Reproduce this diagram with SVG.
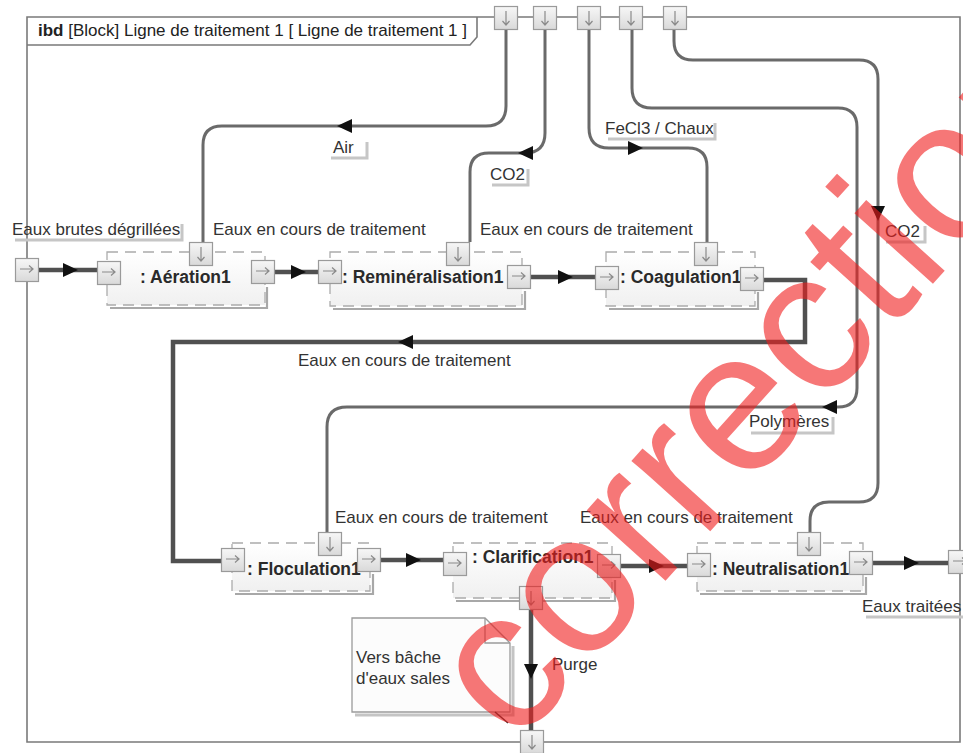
<svg xmlns="http://www.w3.org/2000/svg" width="963" height="753" viewBox="0 0 963 753">
<defs>
<linearGradient id="pg" x1="0" y1="0" x2="0" y2="1"><stop offset="0" stop-color="#f7f7f7"/><stop offset="1" stop-color="#d9d9d9"/></linearGradient>
<linearGradient id="bg" x1="0" y1="0" x2="0" y2="1"><stop offset="0" stop-color="#ffffff"/><stop offset="1" stop-color="#f0f0f0"/></linearGradient>
<symbol id="pR" viewBox="0 0 24 24" overflow="visible"><rect x="0.5" y="0.5" width="23" height="23" fill="url(#pg)" stroke="#9a9a9a" stroke-width="1.2"/><path d="M5,11 H18 M14,7.5 L18,11 L14,14.5" fill="none" stroke="#8a8a8a" stroke-width="1.2"/></symbol>
<symbol id="pD" viewBox="0 0 24 24" overflow="visible"><rect x="0.5" y="0.5" width="23" height="23" fill="url(#pg)" stroke="#9a9a9a" stroke-width="1.2"/><path d="M12,5 V19 M8.5,15 L12,19 L15.5,15" fill="none" stroke="#8a8a8a" stroke-width="1.2"/></symbol>
<path id="ah" d="M0,0 L-15,-7 L-15,7 Z" fill="#111"/>
</defs>
<style>
.frame{fill:none;stroke:#7a7a7a;stroke-width:1.6}
.blk{fill:url(#bg);stroke:#ababab;stroke-width:1.3;stroke-dasharray:11 7}
.sh{fill:none;stroke:#a8a8a8;stroke-width:2.2}
.ctl{fill:none;stroke:#6a6a6a;stroke-width:3}
.flow{fill:none;stroke:#505050;stroke-width:4.5}
.ls{fill:none;stroke:#c6c6c6;stroke-width:3}
text{font-family:"Liberation Sans",Arial,sans-serif}
.lbl{font-size:17px;fill:#333}
.ttl{font-size:17.5px;font-weight:bold;fill:#2a2a2a}
</style>
<rect width="963" height="753" fill="#fff"/>

<g id="frame">
<path class="frame" d="M27,17 H960 V742 H27 Z"/>
<path class="frame" d="M27,45 H470 L477,37 V17"/>
<text x="38" y="36" style="font-size:17px;fill:#222"><tspan font-weight="bold">ibd</tspan> [Block] Ligne de traitement 1 [ Ligne de traitement 1 ]</text>
<use href="#pD" x="494" y="6" width="24" height="24"/>
<use href="#pD" x="533" y="6" width="24" height="24"/>
<use href="#pD" x="577" y="6" width="24" height="24"/>
<use href="#pD" x="619" y="6" width="24" height="24"/>
<use href="#pD" x="663" y="6" width="24" height="24"/>
<use href="#pR" x="15" y="258" width="24" height="24"/>
<use href="#pR" x="948" y="550" width="24" height="24"/>
<use href="#pD" x="520" y="730" width="24" height="24"/>
</g>

<g id="connectors">
<path class="ctl" d="M506,30 V106 Q506,126 486,126 H222 Q203,126 203,145 V242"/>
<path class="ctl" d="M545,30 V133 Q545,153 525,153 H489 Q470,153 470,172 V242"/>
<path class="ctl" d="M589,30 V128 Q589,148 609,148 H688 Q707,148 707,167 V242"/>
<path class="ctl" d="M632,30 V88 Q632,108 652,108 H838 Q857,108 857,127 V388 Q857,407 838,407 H347 Q327,407 327,427 V532"/>
<path class="ctl" d="M674,30 V41 Q674,60 693,60 H859 Q878,60 878,79 V483 Q878,502 859,502 H829 Q810,502 810,521 V532"/>
<use href="#ah" transform="translate(337,126) rotate(180)"/>
<use href="#ah" transform="translate(518,153) rotate(180)"/>
<use href="#ah" transform="translate(643,148)"/>
<use href="#ah" transform="translate(822,407) rotate(180)"/>
<use href="#ah" transform="translate(878,221) rotate(90)"/>
<path class="flow" d="M39,270 H97"/>
<path class="flow" d="M274,272 H318"/>
<path class="flow" d="M531,277 H595"/>
<path class="flow" d="M764,280 H805 V342 H173 V561 H221"/>
<path class="flow" d="M381,560 H443"/>
<path class="flow" d="M621,566 H687"/>
<path class="flow" d="M873,563 H948"/>
<path class="flow" d="M531,610 V730"/>
<use href="#ah" transform="translate(78,270)"/>
<use href="#ah" transform="translate(306,272)"/>
<use href="#ah" transform="translate(573,277)"/>
<use href="#ah" transform="translate(398,342) rotate(180)"/>
<use href="#ah" transform="translate(421,560)"/>
<use href="#ah" transform="translate(664,566)"/>
<use href="#ah" transform="translate(919,563)"/>
<use href="#ah" transform="translate(531,679) rotate(90)"/>
</g>

<g id="labels">
<text class="lbl" x="12" y="235">Eaux brutes dégrillées</text>
<polyline class="ls" points="15,240 182,240 182,224"/>
<text class="lbl" x="213" y="235">Eaux en cours de traitement</text>
<text class="lbl" x="480" y="235">Eaux en cours de traitement</text>
<text class="lbl" x="298" y="366">Eaux en cours de traitement</text>
<text class="lbl" x="335" y="523">Eaux en cours de traitement</text>
<text class="lbl" x="580" y="523">Eaux en cours de traitement</text>
<text class="lbl" x="333" y="153">Air</text>
<polyline class="ls" points="331,158 367,158 367,142"/>
<text class="lbl" x="490" y="180">CO2</text>
<polyline class="ls" points="492,185 528,185 528,169"/>
<text class="lbl" x="605" y="134">FeCl3 / Chaux</text>
<polyline class="ls" points="608,139 715,139 715,123"/>
<text class="lbl" x="885" y="237">CO2</text>
<polyline class="ls" points="886,242 925,242 925,226"/>
<text class="lbl" x="749" y="427">Polymères</text>
<polyline class="ls" points="751,433 833,433 833,417"/>
<text class="lbl" x="862" y="612">Eaux traitées</text>
<polyline class="ls" points="866,617 963,617"/>
<text class="lbl" x="552" y="670">Purge</text>
</g>

<g id="aeration">
<rect class="blk" x="107" y="252" width="158" height="53"/>
<polyline class="sh" points="110,308 267,308 267,287"/>
<text class="ttl" x="140" y="283">: Aération1</text>
<use href="#pR" x="97" y="261" width="24" height="24"/>
<use href="#pD" x="189" y="242" width="24" height="24"/>
<use href="#pR" x="251" y="260" width="24" height="24"/>
</g>

<g id="remineralisation">
<rect class="blk" x="330" y="252" width="192" height="54"/>
<polyline class="sh" points="333,309 525,309 525,291"/>
<text class="ttl" x="342" y="283">: Reminéralisation1</text>
<use href="#pR" x="318" y="260" width="24" height="24"/>
<use href="#pD" x="446" y="242" width="24" height="24"/>
<use href="#pR" x="507" y="265" width="24" height="24"/>
</g>

<g id="coagulation">
<rect class="blk" x="606" y="252" width="149" height="54"/>
<polyline class="sh" points="609,309 758,309 758,292"/>
<text class="ttl" x="620" y="283">: Coagulation1</text>
<use href="#pR" x="595" y="266" width="24" height="24"/>
<use href="#pD" x="694" y="242" width="24" height="24"/>
<use href="#pR" x="740" y="267" width="24" height="24"/>
</g>

<g id="floculation">
<rect class="blk" x="232" y="543" width="138" height="48"/>
<polyline class="sh" points="235,594 373,594 373,574"/>
<text class="ttl" x="247" y="575">: Floculation1</text>
<use href="#pR" x="221" y="548" width="24" height="24"/>
<use href="#pD" x="318" y="532" width="24" height="24"/>
<use href="#pR" x="357" y="548" width="24" height="24"/>
</g>

<g id="clarification">
<rect class="blk" x="453" y="543" width="159" height="55"/>
<polyline class="sh" points="456,601 615,601 615,580"/>
<text class="ttl" x="472" y="563">: Clarification1</text>
<use href="#pR" x="443" y="552" width="24" height="24"/>
<use href="#pR" x="597" y="554" width="24" height="24"/>
<use href="#pD" x="519" y="586" width="24" height="24"/>
</g>

<g id="neutralisation">
<rect class="blk" x="697" y="543" width="166" height="48"/>
<polyline class="sh" points="700,594 866,594 866,577"/>
<text class="ttl" x="712" y="575">: Neutralisation1</text>
<use href="#pR" x="687" y="553" width="24" height="24"/>
<use href="#pD" x="797" y="532" width="24" height="24"/>
<use href="#pR" x="849" y="551" width="24" height="24"/>
</g>

<g id="note">
<polyline points="355,715 513,715 513,646" fill="none" stroke="#c4c4c4" stroke-width="3"/>
<path d="M352,618 H485 L510,643 V712 H352 Z" fill="#fcfcfc" stroke="#9a9a9a" stroke-width="1.3"/>
<path d="M485,618 V643 H510" fill="none" stroke="#9a9a9a" stroke-width="1.3"/>
<path d="M495,712 L508,723" stroke="#333" stroke-width="1.5"/>
<text class="lbl" x="356" y="663">Vers bâche</text>
<text class="lbl" x="356" y="684">d'eaux sales</text>
</g>

<text x="0" y="0" transform="translate(515,748) rotate(-48)" style="font-size:200px;fill:#f01c1c;fill-opacity:0.6">correction</text>
</svg>
